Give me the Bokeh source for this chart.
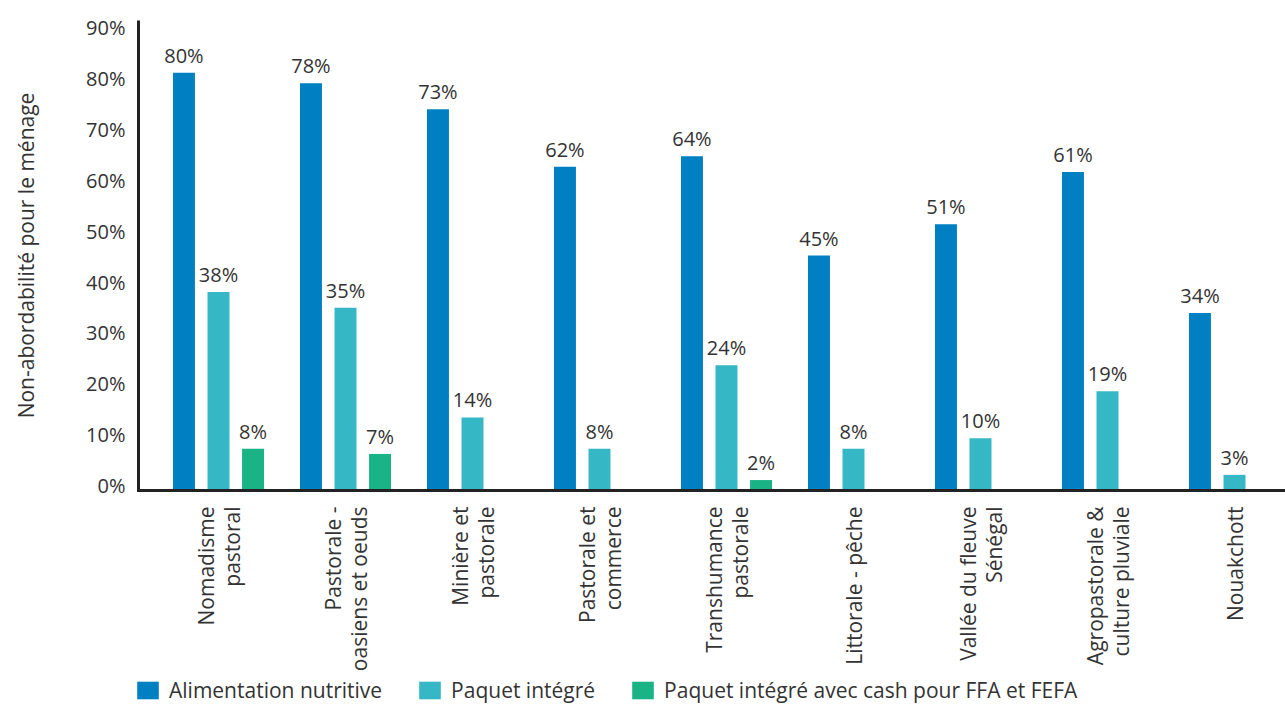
from bokeh.plotting import figure
from bokeh.models import Range1d, Legend, LegendItem, ColumnDataSource
from bokeh.core.properties import value
from bokeh.embed import file_html
from bokeh.resources import INLINE
import math

categories = ["Nomadisme\npastoral", "Pastorale -\noasiens et oeuds", "Minière et\npastorale",
              "Pastorale et\ncommerce", "Transhumance\npastorale", "Littorale - pêche",
              "Vallée du fleuve\nSénégal", "Agropastorale &\nculture pluviale", "Nouakchott"]
series_names = ["Alimentation nutritive", "Paquet intégré",
                "Paquet intégré avec cash pour FFA et FEFA"]
alimentation = [80, 78, 73, 62, 64, 45, 51, 61, 34]
paquet = [38, 35, 14, 8, 24, 8, 10, 19, 3]
paquet_cash = [8, 7, None, None, 2, None, None, None, None]
y_ticks = [0, 10, 20, 30, 40, 50, 60, 70, 80, 90]
y_title = "Non-abordabilité pour le ménage"

colors = ["#0080C3", "#35B7C5", "#19B385"]
FONT = "Open Sans"
TXT = "#333333"
AX = "#222222"

PX = 127.0            # pixels per category
PY = 470.0 / 90.0     # pixels per percentage point
X0, X1 = -218 / PX, (1285 - 218) / PX
Y0, Y1 = -(704 - 490) / PY, 90 + 20 / PY
XAXIS = (138 - 218) / PX

p = figure(width=1285, height=704, output_backend="svg", toolbar_location=None,
           x_range=Range1d(X0, X1), y_range=Range1d(Y0, Y1),
           x_axis_location=None, y_axis_location=None,
           min_border_left=0, min_border_right=0, min_border_top=0, min_border_bottom=0)
p.outline_line_color = None
p.xgrid.visible = False
p.ygrid.visible = False

offsets = [-0.272, 0.0, 0.272]
all_series = [alimentation, paquet, paquet_cash]
renderers = []
for k, (vals, col) in enumerate(zip(all_series, colors)):
    xs, ys, labs = [], [], []
    for i, v in enumerate(vals):
        if v is None:
            continue
        xs.append(i + offsets[k])
        ys.append(v)
        labs.append(f"{v}%")
    src = ColumnDataSource(dict(x=xs, top=ys, lab=labs))
    r = p.vbar(x="x", top="top", width=0.173, bottom=-0.3, source=src, fill_color=col, line_color=None)
    renderers.append(r)
    p.text(x="x", y="top", text="lab", source=src, text_align="center", text_baseline="bottom",
           y_offset=-4, text_font=value(FONT), text_font_size="20px", text_color=TXT)

# axis lines
p.segment(x0=[XAXIS], y0=[0], x1=[XAXIS], y1=[90], line_color=AX, line_width=3)
p.segment(x0=[XAXIS - 1.5 / PX], y0=[0], x1=[X1], y1=[0], line_color=AX, line_width=3)

# y tick labels
tsrc = ColumnDataSource(dict(y=y_ticks, t=[f"{t}%" for t in y_ticks],
                             yo=[-5 + 0.135 * t for t in y_ticks]))
p.text(x=(125 - 218) / PX, y="y", text="t", y_offset="yo", source=tsrc,
       text_align="right", text_baseline="middle", text_font=value(FONT),
       text_font_size="20px", text_color=TXT)

# y axis title
p.text(x=[(25 - 218) / PX], y=[45], text=[y_title], angle=math.pi / 2,
       text_align="center", text_baseline="middle", text_font=value(FONT),
       text_font_size="21px", text_color=TXT)

# category labels (rotated, one glyph per line)
cx, cy, ct, cxo = [], [], [], []
for i, c in enumerate(categories):
    lines = c.split("\n")
    n = len(lines)
    for j, ln in enumerate(lines):
        cx.append(i)
        cy.append(0)
        ct.append(ln)
        cxo.append((j - (n - 1) / 2) * 26)
csrc = ColumnDataSource(dict(x=cx, y=cy, t=ct, xo=cxo))
p.text(x="x", y="y", text="t", x_offset="xo", y_offset=16, angle=math.pi / 2, source=csrc,
       text_align="right", text_baseline="middle", text_font=value(FONT),
       text_font_size="21px", text_color=TXT)

legend = Legend(items=[LegendItem(label=n, renderers=[r]) for n, r in zip(series_names, renderers)],
                orientation="horizontal", location=(134, 0),
                glyph_width=27, glyph_height=22, label_standoff=8, spacing=34,
                padding=0, margin=0, border_line_color=None, background_fill_alpha=0,
                label_text_font=FONT, label_text_font_size="21px", label_text_color=TXT,
                label_height=22)
p.add_layout(legend)

open("out.html", "w").write(file_html(p, INLINE))
